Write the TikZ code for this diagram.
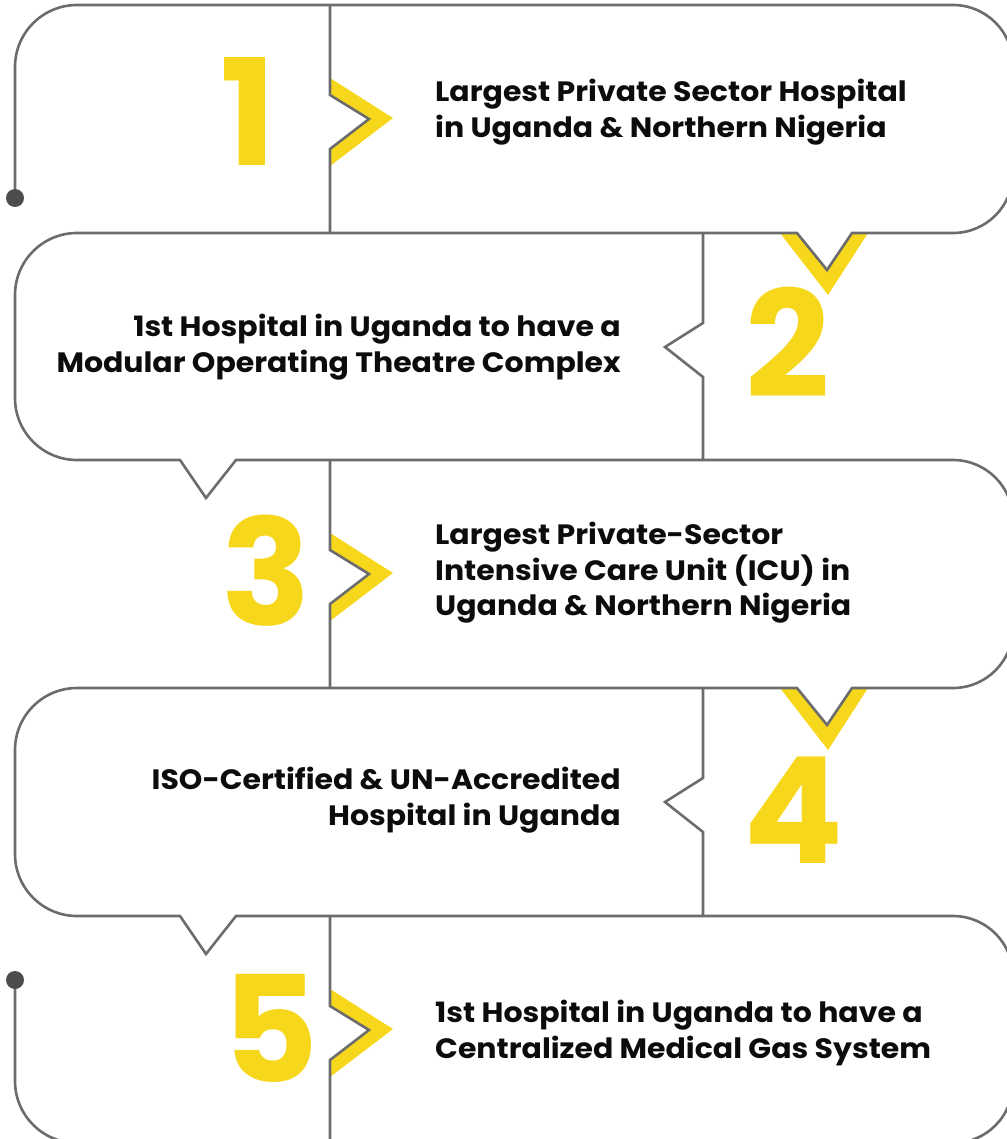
\documentclass[tikz,border=0pt]{standalone}
\usepackage{fontspec}
\setmainfont{Poppins}
\newfontfamily\bodyfont{Poppins}[FakeStretch=1.07]
\definecolor{linegray}{RGB}{108,108,108}
\definecolor{dotgray}{RGB}{77,77,77}
\definecolor{ylw}{RGB}{246,215,28}
\definecolor{txt}{RGB}{12,12,12}
\tikzset{
  frame/.style={draw=linegray, line width=2.6pt, line join=miter},
  chev/.style={fill=ylw, draw=none},
  numtxt/.style={text=ylw, inner sep=0pt, font=\fontsize{148}{148}\selectfont\bfseries, anchor=base},
  bodytxt/.style={text=txt, inner sep=0pt, font=\bodyfont\fontsize{28}{35.5}\selectfont\bfseries},
  dotmark/.style={fill=dotgray, draw=none}
}
\begin{document}
\begin{tikzpicture}[x=1pt,y=1pt]
\useasboundingbox (0,0) rectangle (1006,-1139);
% yellow chevrons pointing right (rows 1,3,5)
\foreach \y in {5,460,916}{
  \fill[chev] (330,{-(\y+73)}) -- (393,{-(\y+113)}) -- (330,{-(\y+161)}) -- (330,{-(\y+144)}) -- (369,{-(\y+114)}) -- (330,{-(\y+90)}) -- cycle;
}
% yellow chevrons pointing down (rows 2,4)
\foreach \y in {233,688}{
  \fill[chev] (780,-\y) -- (828,{-(\y+62)}) -- (868,-\y) -- (852,-\y) -- (827,{-(\y+37)}) -- (797,-\y) -- cycle;
}
% main snake outline
\coordinate (start) at (15,-198);
\coordinate (finish) at (15,-980);
\draw[frame] (start) -- (15,-67) arc[start angle=180,end angle=90,radius=62]
  -- (953,-5) arc[start angle=90,end angle=0,radius=60]
  -- (1013,-173) arc[start angle=0,end angle=-90,radius=60]
  -- (852,-233) -- (827,-270) -- (797,-233)
  -- (77,-233) arc[start angle=90,end angle=180,radius=62]
  -- (15,-398) arc[start angle=180,end angle=270,radius=62]
  -- (180,-460) -- (206,-498) -- (236,-460)
  -- (953,-460) arc[start angle=90,end angle=0,radius=60]
  -- (1013,-628) arc[start angle=0,end angle=-90,radius=60]
  -- (852,-688) -- (827,-725) -- (797,-688)
  -- (77,-688) arc[start angle=90,end angle=180,radius=62]
  -- (15,-854) arc[start angle=180,end angle=270,radius=62]
  -- (180,-916) -- (206,-954) -- (236,-916)
  -- (953,-916) arc[start angle=90,end angle=0,radius=60]
  -- (1013,-1083) arc[start angle=0,end angle=-90,radius=60]
  -- (77,-1143) arc[start angle=270,end angle=180,radius=62]
  -- (finish);
\fill[dotmark] (start) circle[radius=9];
\fill[dotmark] (finish) circle[radius=9];
% vertical dividers
\draw[frame] (330,-5) -- (330,-95) -- (369,-119) -- (330,-149) -- (330,-233);
\draw[frame] (703,-233) -- (703,-323) -- (665,-347) -- (703,-377) -- (703,-460);
\draw[frame] (330,-460) -- (330,-550) -- (369,-574) -- (330,-604) -- (330,-688);
\draw[frame] (703,-688) -- (703,-778) -- (665,-802) -- (703,-832) -- (703,-916);
\draw[frame] (330,-916) -- (330,-1006) -- (369,-1030) -- (330,-1060) -- (330,-1143);
% numbers
\node[numtxt] (n1) at (248,-166) {1};
\node[numtxt] (n2) at (788,-397) {2};
\node[numtxt] (n3) at (266,-625) {3};
\node[numtxt] (n4) at (794,-863) {4};
\node[numtxt] (n5) at (271,-1082) {5};
% texts
\node[bodytxt, anchor=west, align=left] (t1) at (435,-112) {Largest Private Sector Hospital\\in Uganda \& Northern Nigeria};
\node[bodytxt, anchor=east, align=right] (t2) at (621,-347) {1st Hospital in Uganda to have a\\Modular Operating Theatre Complex};
\node[bodytxt, anchor=west, align=left] (t3) at (435,-573) {Largest Private-Sector\\Intensive Care Unit (ICU) in\\Uganda \& Northern Nigeria};
\node[bodytxt, anchor=east, align=right] (t4) at (621,-800) {ISO-Certified \& UN-Accredited\\Hospital in Uganda};
\node[bodytxt, anchor=west, align=left] (t5) at (435,-1033) {1st Hospital in Uganda to have a\\Centralized Medical Gas System};
\end{tikzpicture}
\end{document}
